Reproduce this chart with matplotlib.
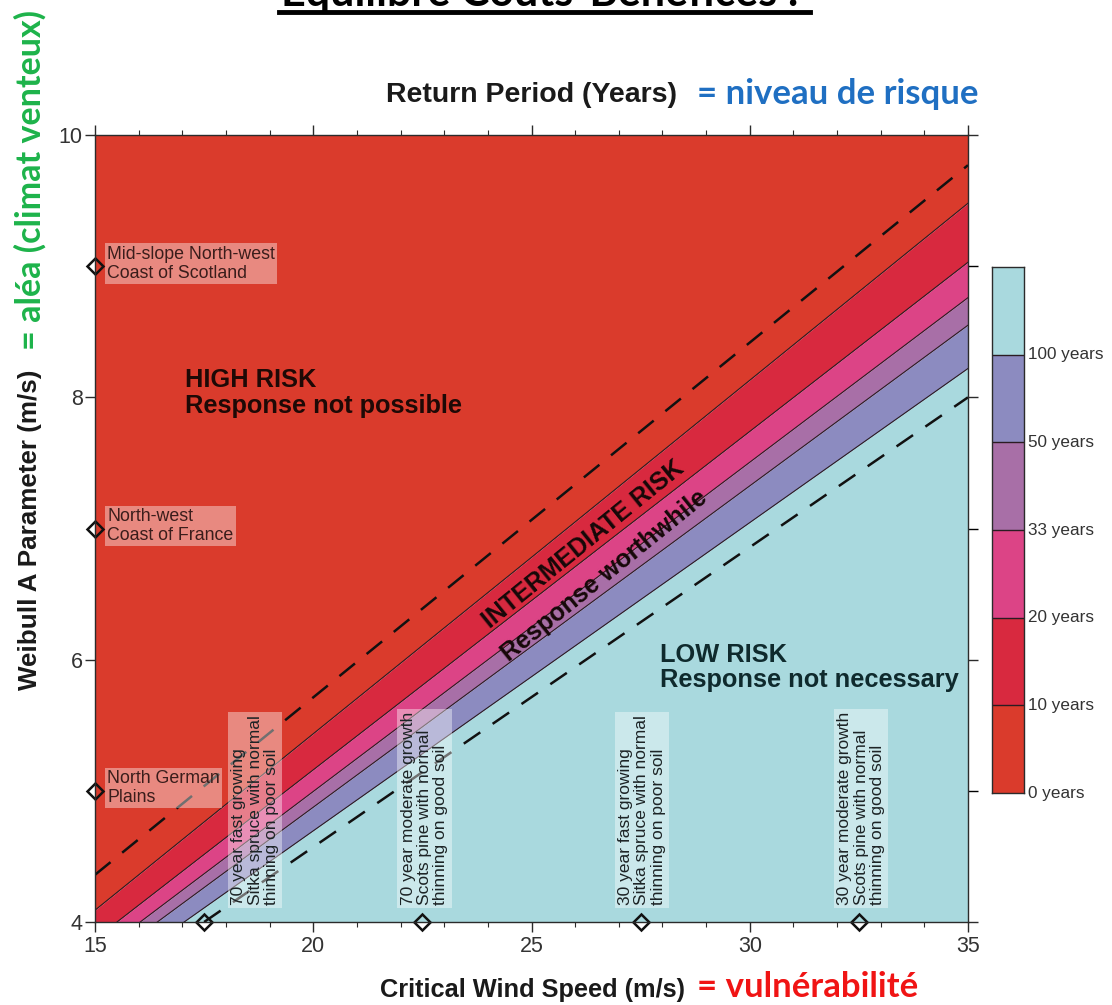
import numpy as np
import matplotlib
matplotlib.use("Agg")
import matplotlib.pyplot as plt
from matplotlib.lines import Line2D

# ---- data -------------------------------------------------------------
# Return-period classes (years) and their fill colours
return_periods = [0, 10, 20, 33, 50, 100]
band_colors = ['#da3b2c', '#d8293f', '#dc4486', '#a86fa7', '#8c8bc0', '#a9d9de']

# Class boundaries: Weibull A value at critical wind speeds 15, 25, 35 m/s
boundary_vc = [15, 25, 35]
bound_10 = [4.09, 6.78, 9.48]
bound_20 = [3.87, 6.45, 9.03]
bound_33 = [3.74, 6.25, 8.76]
bound_50 = [3.65, 6.10, 8.55]
bound_100 = [3.52, 5.87, 8.22]

# Dashed risk-zone limits
upper_dash_vc = [15, 35]
upper_dash_a = [4.36, 9.77]
lower_dash_vc = [17.5, 35]
lower_dash_a = [4.0, 8.0]

# Example sites (Weibull A at the left axis)
site_names = ["Mid-slope North-west\nCoast of Scotland",
              "North-west\nCoast of France",
              "North German\nPlains"]
site_a = [9, 7, 5]

# Example stands (critical wind speed on the bottom axis)
stand_names = ["70 year fast growing\nSitka spruce with normal\nthinning on poor soil",
               "70 year moderate growth\nScots pine with normal\nthinning on good soil",
               "30 year fast growing\nSitka spruce with normal\nthinning on poor soil",
               "30 year moderate growth\nScots pine with normal\nthinning on good soil"]
stand_vc = [17.5, 22.5, 27.5, 32.5]
stand_label_vc = [18.67, 22.55, 27.53, 32.55]

x_ticks = [15, 20, 25, 30, 35]
y_ticks = [4, 6, 8, 10]

# ---- figure -----------------------------------------------------------
W, H = 1112, 1005
fig = plt.figure(figsize=(W / 100, H / 100), dpi=100)
fig.patch.set_facecolor('white')

SANS = ['Liberation Sans', 'DejaVu Sans']
FR = ['Lato', 'DejaVu Sans']

def px_box(x0, y0, x1, y1):
    return [x0 / W, 1 - y1 / H, (x1 - x0) / W, (y1 - y0) / H]

ax = fig.add_axes(px_box(95, 135, 968, 922))
ax.set_xlim(15, 35)
ax.set_ylim(4, 10)

xs = np.array(boundary_vc, dtype=float)
bounds = [np.array(b) for b in (bound_10, bound_20, bound_33, bound_50, bound_100)]
upper_edges = [np.full_like(xs, 10.5)] + bounds
lower_edges = bounds + [np.full_like(xs, 3.0)]
for lo, hi, col in zip(lower_edges, upper_edges, band_colors):
    ax.fill_between(xs, lo, hi, color=col, linewidth=0, zorder=1)
for b in bounds:
    ax.plot(xs, b, color='#2a1c22', lw=0.8, zorder=2)

ax.plot(upper_dash_vc, upper_dash_a, color='#111111', lw=1.8,
        dashes=(8, 6), zorder=3)
ax.plot(lower_dash_vc, lower_dash_a, color='#111111', lw=1.8,
        dashes=(8, 6), zorder=3)

# Region captions
ax.text(17.06, 8.03, "HIGH RISK\nResponse not possible", fontsize=18.3,
        fontweight='bold', family=SANS, color='#1e0906', ha='left',
        va='center', linespacing=1.1, zorder=4)
ax.text(27.94, 5.94, "LOW RISK\nResponse not necessary", fontsize=18.3,
        fontweight='bold', family=SANS, color='#0f2a2d', ha='left',
        va='center', linespacing=1.1, zorder=4)
ax.text(26.18, 6.88, "INTERMEDIATE RISK", fontsize=18, fontweight='bold',
        family=SANS, color='#160808', rotation=39, rotation_mode='anchor',
        ha='center', va='center', zorder=4)
ax.text(26.66, 6.64, "Response worthwhile", fontsize=18, fontweight='bold',
        family=SANS, color='#160808', rotation=39, rotation_mode='anchor',
        ha='center', va='center', zorder=4)

# Site markers and labels
for name, a in zip(site_names, site_a):
    ax.plot([15], [a], marker='D', ms=8, mfc='none', mec='#111111',
            mew=1.8, clip_on=False, zorder=6)
    ax.text(15.28, a + 0.02, name, fontsize=12.8, family=SANS,
            color='#3a1d1b', ha='left', va='center', linespacing=1.15,
            zorder=5,
            bbox=dict(boxstyle='square,pad=0.12', fc='white', ec='none',
                      alpha=0.4))

# Stand markers and labels
for name, vc, lx in zip(stand_names, stand_vc, stand_label_vc):
    ax.plot([vc], [4], marker='D', ms=8, mfc='none', mec='#111111',
            mew=1.8, clip_on=False, zorder=6)
    ax.text(lx, 4.13, name, fontsize=12.5, family=SANS, color='#1c2325',
            rotation=90, ha='center', va='bottom', multialignment='left',
            linespacing=1.12, zorder=5,
            bbox=dict(boxstyle='square,pad=0.18', fc='white', ec='none',
                      alpha=0.4))

# Axes styling
for s in ax.spines.values():
    s.set_color('#2b2b2b')
    s.set_linewidth(1.0)
    s.set_zorder(7)
ax.set_xticks(x_ticks)
ax.set_xticks(np.arange(15, 36, 1), minor=True)
ax.set_yticks(y_ticks)
ax.set_yticks(np.arange(4, 11, 1), minor=True)
ax.tick_params(axis='x', which='both', direction='out', top=True,
               labeltop=False, colors='#2b2b2b', labelcolor='#333333',
               labelsize=15.5, pad=3)
ax.tick_params(axis='x', which='major', length=7, width=1)
ax.tick_params(axis='x', which='minor', length=3.5, width=0.8)
ax.tick_params(axis='y', which='major', direction='out', length=7, width=1,
               left=True, right=True, labelright=False, colors='#2b2b2b',
               labelcolor='#333333', labelsize=15.5, pad=2)
ax.tick_params(axis='y', which='minor', direction='out', length=7, width=1,
               left=False, right=True)
for lab in ax.get_xticklabels() + ax.get_yticklabels():
    lab.set_family(SANS)

# Colour key
cax = fig.add_axes(px_box(992, 267, 1024, 793))
cax.set_xlim(0, 1)
cax.set_ylim(0, len(return_periods))
for i, col in enumerate(band_colors):
    cax.bar(0.5, 1, bottom=i, width=1, color=col, edgecolor='none')
    if i > 0:
        cax.axhline(i, color='#2a1c22', lw=1.0)
for i, rp in enumerate(return_periods):
    cax.text(1.12, i, f"{rp} years", transform=cax.transData, fontsize=12.3,
             family=SANS, color='#333333', ha='left', va='center',
             clip_on=False)
cax.set_xticks([])
cax.set_yticks([])
for s in cax.spines.values():
    s.set_color('#2b2b2b')
    s.set_linewidth(1.0)

# Headings and axis titles
fig.text(531 / W, 1 - 95 / H, "Return Period (Years)", fontsize=20.5,
         fontweight='bold', family=SANS, color='#1a1a1a', ha='center',
         va='center')
fig.text(697 / W, 1 - 94 / H, "= niveau de risque", fontsize=25,
         fontweight='bold', family=FR, color='#1f6fc2', ha='left',
         va='center')
fig.text(532 / W, 1 - 990 / H, "Critical Wind Speed (m/s)", fontsize=18.3,
         fontweight='bold', family=SANS, color='#1a1a1a', ha='center',
         va='center')
fig.text(697 / W, 1 - 987 / H, "= vulnérabilité", fontsize=25,
         fontweight='bold', family=FR, color='#f01414', ha='left',
         va='center')
fig.text(30 / W, 1 - 530 / H, "Weibull A Parameter (m/s)", fontsize=18.7,
         fontweight='bold', family=SANS, color='#1a1a1a', ha='center',
         va='center', rotation=90)
fig.text(30 / W, 1 - 180 / H, "= aléa (climat venteux)", fontsize=24.5,
         fontweight='bold', family=FR, color='#1db34a', ha='center',
         va='center', rotation=90)

# Slide heading (runs off the top edge) with underline
fig.text(540 / W, 1 - 6 / H, "Équilibre Coûts-Bénéfices :", fontsize=31,
         fontweight='bold', family=FR, color='black', ha='center',
         va='baseline')
fig.add_artist(Line2D([279 / W, 810 / W], [1 - 12.5 / H, 1 - 12.5 / H],
                      transform=fig.transFigure, color='black', lw=3.5))

fig.savefig("out.png", dpi=100, facecolor='white')
